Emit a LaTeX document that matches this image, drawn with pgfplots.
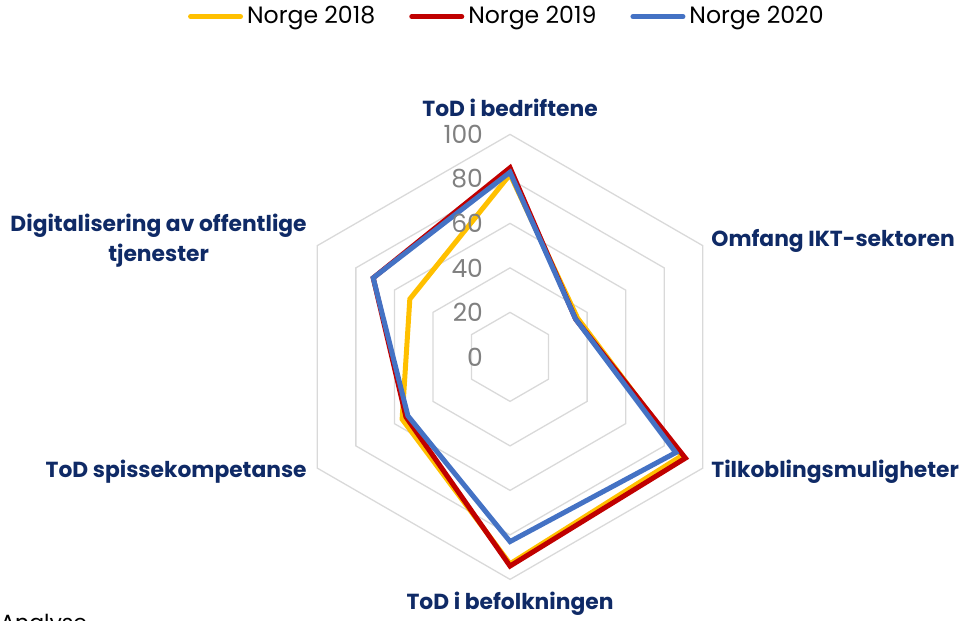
\documentclass[border=0pt]{standalone}
\usepackage{fontspec}
\setmainfont{Poppins}
\usepackage{pgfplots}
\usepackage{pgfplotstable}
\pgfplotsset{compat=1.18}
\usepgfplotslibrary{polar}
\definecolor{y18}{HTML}{FFC000}
\definecolor{r19}{HTML}{C00000}
\definecolor{b20}{HTML}{4472C4}
\definecolor{gridc}{HTML}{D9D9D9}
\definecolor{catc}{HTML}{0F2A66}
\definecolor{tickc}{HTML}{808080}

% radar data: angle (deg), value
\pgfplotstableread{
ang n18 n19 n20
90   82 85 83
30   35 34 34
-30  89 91 86
-90  93 94 83
-150 56 54 53
150  52 71 71
}\radar

\begin{document}
\begin{tikzpicture}
\path[use as bounding box] (0,0) rectangle (480pt,310.5pt);
\clip (0,0) rectangle (480pt,310.5pt);
\begin{axis}[
    scale only axis,
    width=480pt, height=310.5pt,
    xmin=-229.2, xmax=202.2,
    ymin=-118.7, ymax=160.4,
    hide axis,
    clip=false,
    legend columns=3,
    legend style={at={(0.529,1)}, anchor=north, draw=none, fill=none,
        font=\fontsize{11.8pt}{13pt}\selectfont, inner sep=1pt,
        /tikz/every even column/.append style={column sep=15pt}},
    legend image code/.code={\draw[#1, line cap=round] (0pt,0pt) -- (25pt,0pt);},
    legend cell align=left,
]
% hexagon grid
\pgfplotsinvokeforeach{20,40,60,80,100}{
  \addplot[forget plot, data cs=polar, gridc, line width=0.65pt]
    coordinates {(90,#1)(30,#1)(-30,#1)(-90,#1)(-150,#1)(150,#1)} --cycle;
}
\addplot[data cs=polar, y18, line width=2.5pt] table[x=ang, y=n18] {\radar} --cycle;
\addlegendentry{Norge 2018}
\addplot[data cs=polar, r19, line width=2.5pt] table[x=ang, y=n19] {\radar} --cycle;
\addlegendentry{Norge 2019}
\addplot[data cs=polar, b20, line width=2.5pt] table[x=ang, y=n20] {\radar} --cycle;
\addlegendentry{Norge 2020}

% value labels
\pgfplotsinvokeforeach{0,20,40,60,80,100}{
  \node[anchor=east, inner sep=0pt, text=tickc, font=\fontsize{12.5pt}{14pt}\selectfont]
    at (axis cs:-12,#1) {#1};
}
% category labels
\begin{scope}[every node/.style={text=catc, inner sep=0pt,
    font=\fontsize{10.9pt}{15pt}\selectfont\bfseries}]
\node at (axis cs:0,111.9) {ToD i bedriftene};
\node[anchor=west] at (axis cs:90.3,52.1) {Omfang IKT-sektoren};
\node[anchor=west] at (axis cs:90.3,-51.7) {Tilkoblingsmuligheter};
\node at (axis cs:0,-111) {ToD i befolkningen};
\node[anchor=east] at (axis cs:-91.2,-51.7) {ToD spissekompetanse};
\node[anchor=east, align=center] at (axis cs:-91.2,52.1) {Digitalisering av offentlige\\tjenester};
\end{scope}
\node[anchor=north west, inner sep=0pt, font=\fontsize{11pt}{13pt}\selectfont]
  at (axis cs:-229.2,-115.5) {Analyse};
\end{axis}
\end{tikzpicture}
\end{document}
